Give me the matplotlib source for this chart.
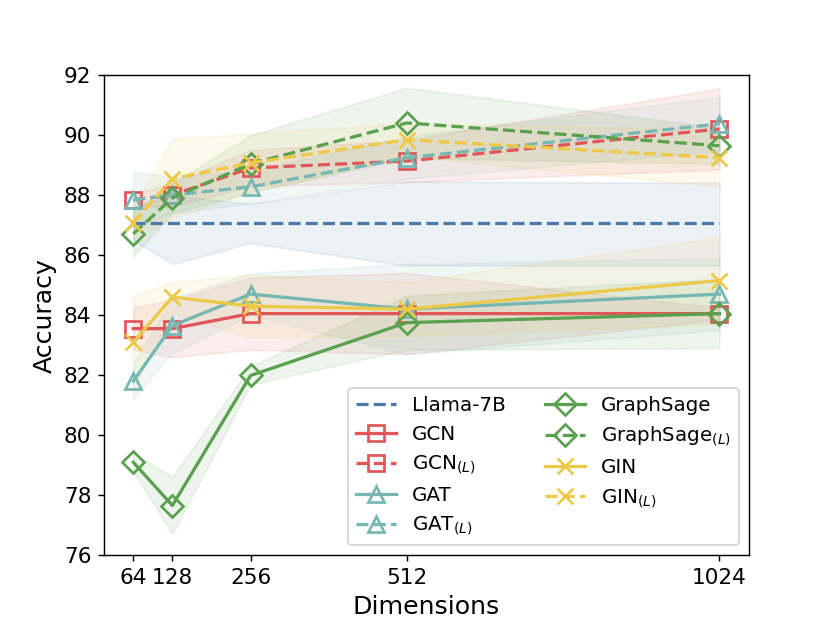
import numpy as np
import matplotlib
matplotlib.use("Agg")
import matplotlib.pyplot as plt

# dimensions on the x axis
dims = [64, 128, 256, 512, 1024]

# Llama-7B baseline (flat line) with its own band
llama_mean = [87.08, 87.08, 87.08, 87.08, 87.08]
llama_low = [86.5, 85.7, 86.4, 85.65, 85.65]
llama_high = [87.6, 88.0, 87.7, 88.45, 88.4]

gcn = [83.55, 83.55, 84.05, 84.05, 84.05]
gcn_std = [0.7, 0.95, 1.2, 1.35, 0.2]
gcn_l = [87.84, 88.0, 88.9, 89.13, 90.2]
gcn_l_std = [0.2, 0.4, 0.6, 0.7, 1.35]

gat = [81.8, 83.65, 84.7, 84.2, 84.7]
gat_std = [0.6, 0.9, 0.7, 1.5, 1.2]
gat_l = [87.84, 88.0, 88.27, 89.24, 90.37]
gat_l_std = [0.93, 0.6, 0.55, 0.7, 0.9]

sage = [79.1, 77.66, 81.99, 83.75, 84.05]
sage_std = [0.3, 0.95, 0.3, 0.9, 1.15]
sage_l = [86.71, 87.9, 89.04, 90.4, 89.64]
sage_l_std = [0.75, 0.5, 0.95, 1.17, 0.6]

gin = [83.1, 84.6, 84.3, 84.2, 85.15]
gin_std = [1.55, 0.5, 1.05, 0.9, 1.45]
gin_l = [87.08, 88.54, 89.07, 89.84, 89.24]
gin_l_std = [0.5, 1.33, 0.97, 0.56, 0.95]

blue = "#4e79a7"
red = "#e15759"
teal = "#76b7b2"
green = "#59a14f"
yellow = "#edc948"

fig, ax = plt.subplots(figsize=(6.4, 4.8), dpi=130)

ax.plot(dims, llama_mean, "--", color=blue, lw=1.8, label="Llama-7B")
ax.fill_between(dims, llama_low, llama_high, color=blue, alpha=0.1)

series = [
    (gcn, gcn_std, red, "s", "-", "GCN"),
    (gcn_l, gcn_l_std, red, "s", "--", "GCN$_{(L)}$"),
    (gat, gat_std, teal, "^", "-", "GAT"),
    (gat_l, gat_l_std, teal, "^", "--", "GAT$_{(L)}$"),
    (sage, sage_std, green, "D", "-", "GraphSage"),
    (sage_l, sage_l_std, green, "D", "--", "GraphSage$_{(L)}$"),
    (gin, gin_std, yellow, "x", "-", "GIN"),
    (gin_l, gin_l_std, yellow, "x", "--", "GIN$_{(L)}$"),
]

for mean, std, c, m, ls, lab in series:
    mean = np.array(mean)
    std = np.array(std)
    ax.plot(dims, mean, ls, color=c, marker=m, markersize=8.5, mfc="none",
            mew=1.5, lw=1.8, label=lab)
    ax.fill_between(dims, mean - std, mean + std, color=c, alpha=0.1)

ax.set_ylim(76, 92)
ax.set_xticks(dims)
ax.set_xticklabels([str(d) for d in dims])
ax.tick_params(labelsize=12)
ax.set_xlabel("Dimensions", fontsize=14)
ax.set_ylabel("Accuracy", fontsize=14)
ax.legend(ncol=2, loc="lower right", fontsize=11)

plt.savefig("out.png")
